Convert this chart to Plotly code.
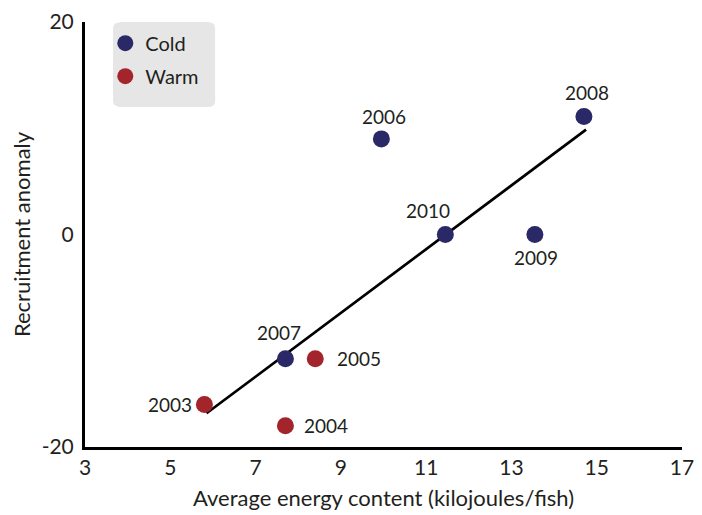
import numpy as np
import plotly.graph_objects as go

# data
cold_years = ['2006', '2007', '2008', '2009', '2010']
cold_energy = [9.95, 7.7, 14.7, 13.55, 11.45]
cold_recruit = [9.0, -11.7, 11.1, 0.0, 0.0]

warm_years = ['2003', '2004', '2005']
warm_energy = [5.8, 7.7, 8.4]
warm_recruit = [-16.0, -18.0, -11.7]

x_ticks = [3, 5, 7, 9, 11, 13, 15, 17]
y_ticks = [-20, 0, 20]
y_tick_labels = ['-20', '0', '20']

# label offsets in px (xshift, yshift, xanchor)
label_style = {
    '2003': (-10, 0, 'right'),
    '2004': (17, 0, 'left'),
    '2005': (20, 0, 'left'),
    '2006': (3, 22, 'center'),
    '2007': (-6, 26, 'center'),
    '2008': (3, 24, 'center'),
    '2009': (1, -23, 'center'),
    '2010': (-17, 24, 'center'),
}

FONT = 'Lato'
COLD = '#2a2866'
WARM = '#a4242b'

# trend line over all years
all_x = np.array(cold_energy + warm_energy)
all_y = np.array(cold_recruit + warm_recruit)
slope, icpt = np.polyfit(all_x, all_y, 1)
fit_x = np.array([all_x.min() + 0.05, all_x.max() + 0.05])
fit_y = slope * fit_x + icpt

fig = go.Figure()

fig.add_trace(go.Scatter(x=fit_x, y=fit_y, mode='lines',
                         line=dict(color='black', width=2.7),
                         showlegend=False, hoverinfo='skip'))

fig.add_trace(go.Scatter(x=cold_energy, y=cold_recruit, mode='markers',
                         name='Cold', legendgroup='c',
                         marker=dict(color=COLD, size=17), cliponaxis=False))

fig.add_trace(go.Scatter(x=warm_energy, y=warm_recruit, mode='markers',
                         name='Warm', legendgroup='w',
                         marker=dict(color=WARM, size=17), cliponaxis=False))

for yr, xx, yy in zip(cold_years + warm_years, cold_energy + warm_energy,
                      cold_recruit + warm_recruit):
    dx, dy, anc = label_style[yr]
    fig.add_annotation(x=xx, y=yy, text=yr, showarrow=False, xshift=dx, yshift=dy,
                       xanchor=anc, yanchor='middle',
                       font=dict(family=FONT, size=19, color='#231f20'))

# rounded grey legend box
fig.add_shape(type='path', xref='paper', yref='paper', layer='below',
              path='M 0.062 1.0 L 0.205 1.0 Q 0.218 1.0 0.218 0.985 L 0.218 0.815 '
                   'Q 0.218 0.8 0.205 0.8 L 0.062 0.8 Q 0.047 0.8 0.047 0.815 '
                   'L 0.047 0.985 Q 0.047 1.0 0.062 1.0 Z',
              fillcolor='#e6e6e6', line=dict(width=0))

# page body adds 8px at top/left, margins are trimmed to compensate
fig.update_layout(
    width=702, height=515,
    margin=dict(l=77, r=28, t=14, b=76),
    plot_bgcolor='white', paper_bgcolor='white',
    font=dict(family=FONT, size=21, color='#231f20'),
    showlegend=True,
    legend=dict(x=0.034, y=0.996, xanchor='left', yanchor='top',
                bgcolor='rgba(0,0,0,0)', borderwidth=0,
                font=dict(size=20), itemsizing='trace',
                traceorder='grouped', tracegroupgap=4, itemwidth=30),
    xaxis=dict(range=[3, 17], tickvals=x_ticks, showgrid=False, zeroline=False,
               showline=True, linecolor='black', linewidth=3, ticks='',
               tickfont=dict(size=21), automargin=False,
               title=dict(text='Average energy content (kilojoules/fish)', standoff=13,
                          font=dict(size=22))),
    yaxis=dict(range=[-20, 20], tickvals=y_ticks, ticktext=y_tick_labels,
               showgrid=False, zeroline=False,
               showline=True, linecolor='black', linewidth=3, ticks='',
               tickfont=dict(size=21), ticklabelstandoff=4, automargin=False,
               title=dict(text='Recruitment anomaly', standoff=10,
                          font=dict(size=22))),
)

fig.write_html('out.html')
